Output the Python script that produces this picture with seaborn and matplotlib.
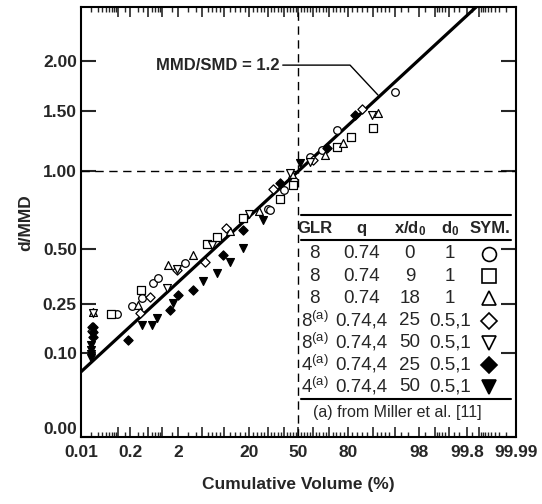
import math
import numpy as np
import pandas as pd
import matplotlib
matplotlib.use('Agg')
import matplotlib.pyplot as plt
import seaborn as sns
from matplotlib.ticker import FixedLocator, FixedFormatter

# ---- data (cumulative volume %, d/MMD) ----
circle_pct = [0.094, 0.22, 0.37, 0.64, 0.82, 2.6, 30.3, 31.3, 40, 47, 57.8, 65.4, 74.3, 95.1]
circle_d = [0.213, 0.244, 0.272, 0.334, 0.356, 0.426, 0.733, 0.728, 0.86, 0.93, 1.111, 1.164, 1.332, 1.685]

square_pct = [0.066, 0.36, 5.8, 8.1, 17.3, 37.6, 46.5, 74.3, 81.4, 89.8]
square_d = [0.213, 0.305, 0.525, 0.564, 0.676, 0.799, 0.900, 1.186, 1.270, 1.347]

tri_pct = [0.022, 0.31, 1.29, 3.5, 12, 25, 45.4, 67.5, 77.8, 91.4]
tri_d = [0.222, 0.246, 0.418, 0.47, 0.60, 0.72, 0.978, 1.124, 1.219, 1.486]

diam_pct = [0.021, 0.021, 0.34, 0.55, 1.87, 5.5, 10.9, 33.3, 60, 86]
diam_d = [0.172, 0.160, 0.216, 0.278, 0.394, 0.434, 0.616, 0.867, 1.084, 1.518]

dtri_pct = [0.022, 1.22, 1.9, 7, 20, 44.2, 58, 89.5]
dtri_d = [0.216, 0.313, 0.40, 0.52, 0.70, 0.982, 1.07, 1.466]

fdiam_pct = [0.022, 0.022, 0.022, 0.18, 1.39, 1.99, 3.6, 9.9, 17.3, 37.6, 68.5, 83.3]
fdiam_d = [0.157, 0.170, 0.140, 0.133, 0.228, 0.285, 0.305, 0.468, 0.606, 0.910, 1.178, 1.466]

fdtri_pct = [0.02, 0.02, 0.02, 0.02, 0.37, 0.60, 0.78, 1.62, 5.2, 8.1, 12.1, 17.3, 27.4, 51]
fdtri_d = [0.107, 0.088, 0.12, 0.098, 0.177, 0.177, 0.199, 0.253, 0.344, 0.379, 0.434, 0.503, 0.666, 1.061]

# root-normal fit, MMD/SMD = 1.2
sigma_fit = 0.203

x_major = [0.01, 0.1, 0.2, 0.5, 1, 2, 5, 10, 20, 30, 40, 50, 60, 70, 80, 90, 95, 98, 99, 99.5, 99.8, 99.9, 99.99]
x_labeled = [0.01, 0.2, 2, 20, 50, 80, 98, 99.8, 99.99]
x_minor_low = [0.02, 0.03, 0.04, 0.05, 0.06, 0.07, 0.08, 0.09, 0.15, 0.3, 0.4, 0.6, 0.7, 0.8, 0.9,
               1.5, 3, 4, 6, 7, 8, 9, 12, 14, 16, 18, 22, 24, 26, 28, 32, 34, 36, 38, 42, 44, 46, 48]
y_ticks = [0.0, 0.10, 0.25, 0.50, 1.00, 1.50, 2.00]

table_rows = [
    ("8", "0.74", "0", "1", "o", "white"),
    ("8", "0.74", "9", "1", "s", "white"),
    ("8", "0.74", "18", "1", "^", "white"),
    ("8$^{\\rm(a)}$", "0.74,4", "25", "0.5,1", "D", "white"),
    ("8$^{\\rm(a)}$", "0.74,4", "50", "0.5,1", "v", "white"),
    ("4$^{\\rm(a)}$", "0.74,4", "25", "0.5,1", "D", "black"),
    ("4$^{\\rm(a)}$", "0.74,4", "50", "0.5,1", "v", "black"),
]


# ---- normal probability scale helpers ----
_a = [-3.969683028665376e+01, 2.209460984245205e+02, -2.759285104469687e+02,
      1.383577518672690e+02, -3.066479806614716e+01, 2.506628277459239e+00]
_b = [-5.447609879822406e+01, 1.615858368580409e+02, -1.556989798598866e+02,
      6.680131188771972e+01, -1.328068155288572e+01]
_c = [-7.784894002430293e-03, -3.223964580411365e-01, -2.400758277161838e+00,
      -2.549732539343734e+00, 4.374664141464968e+00, 2.938163982698783e+00]
_d = [7.784695709041462e-03, 3.224671290700398e-01, 2.445134137142996e+00,
      3.754408661907416e+00]


def ppf(p):
    p = np.clip(np.asarray(p, dtype=float), 1e-12, 1 - 1e-12)
    plow = 0.02425
    out = np.empty_like(p)
    lo = p < plow
    hi = p > 1 - plow
    mid = ~(lo | hi)
    q = np.sqrt(-2 * np.log(p[lo]))
    out[lo] = ((((( _c[0]*q + _c[1])*q + _c[2])*q + _c[3])*q + _c[4])*q + _c[5]) / \
              ((((_d[0]*q + _d[1])*q + _d[2])*q + _d[3])*q + 1)
    q = np.sqrt(-2 * np.log(1 - p[hi]))
    out[hi] = -((((( _c[0]*q + _c[1])*q + _c[2])*q + _c[3])*q + _c[4])*q + _c[5]) / \
              ((((_d[0]*q + _d[1])*q + _d[2])*q + _d[3])*q + 1)
    q = p[mid] - 0.5
    r = q * q
    out[mid] = (((((_a[0]*r + _a[1])*r + _a[2])*r + _a[3])*r + _a[4])*r + _a[5]) * q / \
               (((((_b[0]*r + _b[1])*r + _b[2])*r + _b[3])*r + _b[4])*r + 1)
    return out


_erf = np.vectorize(math.erf)


def cdf(z):
    return 0.5 * (1 + _erf(np.asarray(z, dtype=float) / math.sqrt(2)))


def prob_fwd(pct):
    return ppf(np.asarray(pct, dtype=float) / 100.0)


def prob_inv(z):
    return 100.0 * cdf(z)


def sqrt_fwd(v):
    return np.sqrt(np.clip(np.asarray(v, dtype=float), 0, None))


def sqrt_inv(v):
    return np.square(v)


# ---- style ----
sns.set_style("ticks")
plt.rcParams['font.family'] = ['Liberation Sans', 'DejaVu Sans']
plt.rcParams['mathtext.fontset'] = 'custom'
plt.rcParams['mathtext.rm'] = 'Liberation Sans'
plt.rcParams['mathtext.bf'] = 'Liberation Sans:bold'
plt.rcParams['mathtext.it'] = 'Liberation Sans:italic'

fig = plt.figure(figsize=(5.42, 5.04), dpi=100)
ax = fig.add_axes([0.1494, 0.1329, 0.8026, 0.8526])
ax.set_xscale('function', functions=(prob_fwd, prob_inv))
ax.set_yscale('function', functions=(sqrt_fwd, sqrt_inv))
ax.set_xlim(0.01, 99.99)
ax.set_ylim(0.0, 2.61)

# reference lines
ax.axhline(1.0, color='black', lw=1.0, ls=(0, (6, 4)), zorder=1)
ax.axvline(50, color='black', lw=1.0, ls=(0, (6, 4)), zorder=1)

# fitted root-normal line
z_grid = np.linspace(-3.9, 3.9, 300)
fit_pct = prob_inv(z_grid)
fit_d = (1 + sigma_fit * z_grid) ** 2
ax.plot(fit_pct, fit_d, color='black', lw=2.3, zorder=2, solid_capstyle='butt')

series = [
    (circle_pct, circle_d, 'o', 'white', 30),
    (square_pct, square_d, 's', 'white', 26),
    (tri_pct, tri_d, '^', 'white', 32),
    (diam_pct, diam_d, 'D', 'white', 22),
    (dtri_pct, dtri_d, 'v', 'white', 32),
    (fdiam_pct, fdiam_d, 'D', 'black', 22),
    (fdtri_pct, fdtri_d, 'v', 'black', 32),
]
for xs, ys, mk, fc, sz in series:
    df = pd.DataFrame({'pct': xs, 'd': ys})
    sns.scatterplot(data=df, x='pct', y='d', marker=mk, color=fc, edgecolor='black',
                    linewidth=0.9, s=sz, ax=ax, zorder=3, legend=False)

# annotation of the fit line
ax.plot([39.4, 81.1, 91.3], [1.955, 1.955, 1.653], color='black', lw=1.0)
ax.text(37.0, 1.955, 'MMD/SMD = 1.2', ha='right', va='center', fontsize=12, fontweight='bold')

# axes, ticks
for sp in ax.spines.values():
    sp.set_linewidth(1.5)
    sp.set_color('black')

ax.xaxis.set_major_locator(FixedLocator(x_major))
ax.xaxis.set_major_formatter(FixedFormatter(
    [(f'{v:g}' if v in x_labeled else '') for v in x_major]))
x_minor = x_minor_low + [round(100 - v, 4) for v in x_minor_low]
ax.xaxis.set_minor_locator(FixedLocator(x_minor))
ax.yaxis.set_major_locator(FixedLocator(y_ticks))
ax.yaxis.set_major_formatter(FixedFormatter([f'{v:.2f}' for v in y_ticks]))
ax.yaxis.set_minor_locator(FixedLocator([]))

ax.tick_params(axis='x', which='major', direction='in', length=7, width=1.2,
               top=True, bottom=True, pad=6, labelsize=12.5)
ax.tick_params(axis='x', which='minor', direction='in', length=3.5, width=1.0,
               top=True, bottom=True)
ax.tick_params(axis='y', which='major', direction='in', length=11, width=1.5,
               left=True, right=True, pad=3, labelsize=12.5)
for lab in ax.get_xticklabels() + ax.get_yticklabels():
    lab.set_fontweight('bold')
# lift the 0.00 label slightly so it clears the 0.01 label below
ax.get_yticklabels()[0].set_va('bottom')

ax.set_xlabel('Cumulative Volume (%)', fontsize=12.5, fontweight='bold', labelpad=12)
ax.set_ylabel('d/MMD', fontsize=12.5, fontweight='bold', labelpad=7)

# ---- table legend ----
T = ax.transAxes
tx0, tx1 = 0.505, 0.989
for yy, lw in [(0.516, 1.5), (0.458, 1.5), (0.088, 1.5)]:
    ax.plot([tx0, tx1], [yy, yy], transform=T, color='black', lw=lw, clip_on=False)

col_x = [0.537, 0.644, 0.756, 0.848, 0.939]
headers = ['GLR', 'q', 'x/d$_\\mathbf{0}$', 'd$_\\mathbf{0}$', 'SYM.']
for cx, h in zip(col_x, headers):
    ax.text(cx, 0.485, h, transform=T, ha='center', va='center', fontsize=12, fontweight='bold')

row_y = [0.426, 0.374, 0.323, 0.271, 0.219, 0.167, 0.117]
for ry, (glr, q, xd, d0, mk, fc) in zip(row_y, table_rows):
    for cx, s in zip(col_x[:4], [glr, q, xd, d0]):
        ax.text(cx, ry, s, transform=T, ha='center', va='center', fontsize=13.5)
    msz = 10 if mk in ('o', 's', '^', 'v') else 8.5
    ax.plot([col_x[4]], [ry], transform=T, marker=mk, ms=msz, mfc=fc, mec='black',
            mew=1.2, ls='none', clip_on=False)

ax.text(0.728, 0.056, '(a) from Miller et al. [11]', transform=T, ha='center', va='center',
        fontsize=11.5)

fig.savefig('out.png', dpi=100)
